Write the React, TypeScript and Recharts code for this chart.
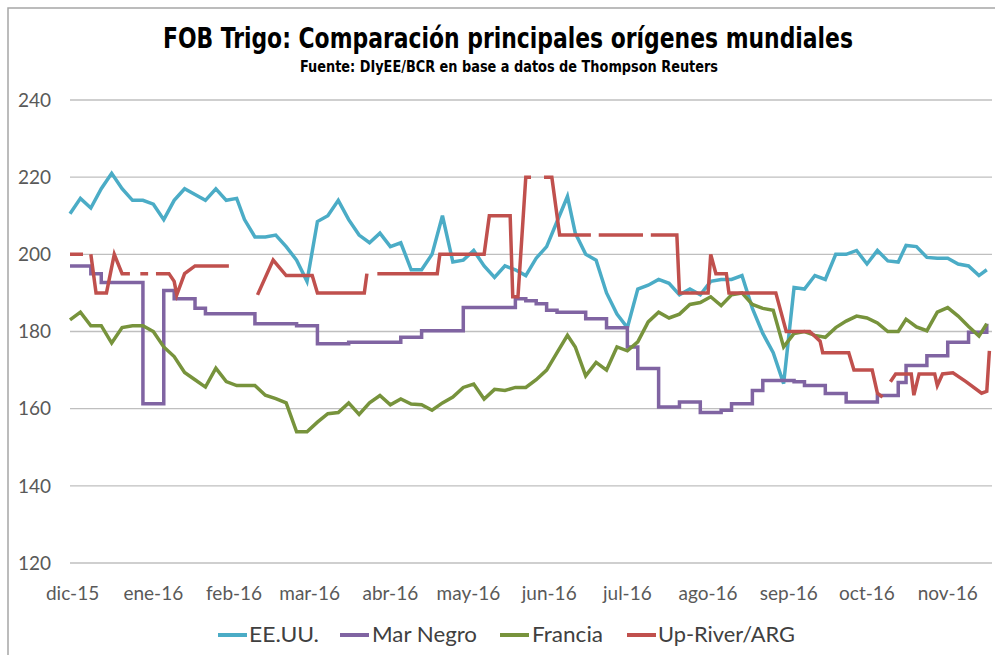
import { CartesianGrid, Line, LineChart, XAxis, YAxis } from "recharts";

const monthTicks = [1, 32, 63, 92, 123, 153, 184, 214, 245, 276, 306, 337];
const monthLabels = [
  "dic-15", "ene-16", "feb-16", "mar-16", "abr-16", "may-16",
  "jun-16", "jul-16", "ago-16", "sep-16", "oct-16", "nov-16",
];
const yTicks = [120, 140, 160, 180, 200, 220, 240];

// day 0 = 30-nov-2015
const days = [
  0, 4, 8, 12, 16, 20, 24, 28, 32, 36,
  40, 44, 48, 52, 56, 60, 64, 67, 71, 75,
  79, 83, 87, 91, 95, 99, 103, 107, 111, 115,
  119, 123, 127, 131, 135, 139, 143, 147, 151, 155,
  159, 163, 167, 171, 175, 179, 183, 187, 191, 194,
  198, 202, 206, 210, 214, 218, 222, 226, 230, 234,
  238, 242, 246, 250, 254, 258, 262, 266, 270, 274,
  278, 282, 286, 290, 294, 298, 302, 306, 310, 314,
  318, 321, 325, 329, 333, 337, 341, 345, 349, 352,
];

const eeuu = [
  210.5, 214.5, 212, 217, 221, 217, 214, 214, 213, 209,
  214, 217, 215.5, 214, 217, 214, 214.5, 209, 204.5, 204.5,
  205, 202, 198.5, 193, 208.5, 210, 214, 209, 205, 203,
  205.5, 202, 203, 196, 196, 200, 210, 198, 198.5, 201,
  197, 194, 197, 196, 194.5, 199, 202, 208.5, 215, 205.5,
  200, 198.5, 190, 184.5, 181, 191, 192, 193.5, 192.5, 189.5,
  191, 189.5, 193, 193.5, 193.5, 194.5, 186, 179.5, 174.5, 166.5,
  191.4, 191, 194.5, 193.5, 200, 200, 201, 197.5, 201, 198.3,
  198, 202.3, 202, 199.2, 199, 199, 197.5, 197, 194.5, 196,
];

const marNegro = [
  197, 197, 195, 192.7, 192.7, 192.7, 192.7, 161.3, 161.3, 190.6,
  188.5, 188.5, 186, 184.6, 184.6, 184.6, 184.6, 184.6, 182, 182,
  182, 182, 181.5, 181.5, 176.8, 176.8, 176.8, 177.2, 177.2, 177.2,
  177.2, 177.2, 178.5, 178.5, 180.2, 180.2, 180.2, 180.2, 186.2, 186.2,
  186.2, 186.2, 186.2, 188.5, 188, 187.2, 185.5, 185, 185, 185,
  183.3, 183.3, 181, 181, 176, 170.4, 170.4, 160.4, 160.4, 161.7,
  161.7, 159, 159, 159.6, 161.3, 161.3, 164.7, 167.3, 167.3, 167.3,
  167, 166, 166, 163.9, 163.9, 161.7, 161.7, 161.7, 163.4, 163.4,
  166.8, 171.2, 171.2, 173.7, 173.7, 177.2, 177.2, 179.8, 179.8, 182,
];

const francia = [
  183, 185, 181.5, 181.5, 177, 181, 181.5, 181.5, 180, 176,
  173.5, 169.4, 167.5, 165.6, 170.5, 167, 166, 166, 166, 163.5,
  162.6, 161.5, 154, 154, 156.5, 158.7, 159, 161.5, 158.5, 161.5,
  163.4, 161, 162.5, 161.2, 161, 159.6, 161.5, 163, 165.5, 166.4,
  162.5, 165, 164.7, 165.5, 165.5, 167.5, 170, 174.5, 179, 176,
  168.5, 172, 170, 176, 175, 177.3, 182.5, 185, 183.5, 184.5,
  187, 187.5, 189, 186.7, 189.5, 190, 187, 186, 185.5, 176,
  179.5, 180, 179, 178.5, 181, 182.7, 184, 183.5, 182.2, 180,
  180, 183.2, 181.2, 180.2, 185, 186.2, 184, 181.3, 178.8, 182,
];

// Up-River has gaps (null) and its own dates
const argDays = [
  0, 5, 7,
  8, 10, 14, 17, 20, 23, 25,
  27, 30, 32,
  33, 38, 40, 41, 44, 48, 61, 66,
  72, 78, 83, 93, 95, 113, 114, 116,
  118, 141, 142, 159, 161, 169, 170, 172, 175, 177, 180,
  182, 185, 188, 200, 202,
  203, 220, 222,
  223, 233, 234, 245, 246, 248, 252, 253, 271, 275, 284, 288, 289, 299, 301, 308, 310, 312, 314,
  315, 317, 323, 324, 326, 332, 333, 335, 339, 344, 350, 352, 353,
];
const argValues = [
  200, 200, null,
  200, 190, 190, 200, 195, 195, null,
  195, 195, null,
  195, 195, 193, 189.5, 195, 197, 197, null,
  189.5, 198.5, 194.5, 194.5, 190, 190, 195, null,
  195, 195, 200, 200, 210, 210, 189, 189, 220, 220, null,
  220, 220, 205, 205, null,
  205, 205, null,
  205, 205, 190, 190, 200, 195, 195, 190, 190, 180, 180, 177.5, 174.5, 174.5, 170, 170, 164, 163, null,
  167, 169, 169, 163.5, 169, 169, 166, 169, 169.3, 167, 164, 164.5, 175,
];

const series = [
  { key: "eeuu", name: "EE.UU.", color: "#4BACC6" },
  { key: "marNegro", name: "Mar Negro", color: "#8064A2" },
  { key: "francia", name: "Francia", color: "#77933C" },
  { key: "arg", name: "Up-River/ARG", color: "#C0504D" },
];

const data = days.map((day, i) => ({
  day,
  eeuu: eeuu[i],
  marNegro: marNegro[i],
  francia: francia[i],
}));

const argData = argDays.map((day, i) => ({ day, arg: argValues[i] }));

const tickStyle = { fontFamily: "Lato, sans-serif", fontSize: 19, fill: "#595959" };

// legend placement: marker start, label start, label width
const legendPos = [
  { m: 218, x: 249, w: 70 },
  { m: 340, x: 372, w: 105 },
  { m: 500, x: 532, w: 71 },
  { m: 627, x: 658, w: 137 },
];

export default function App() {
  return (
    <div style={{ position: "absolute", left: 0, top: 0, width: 995, height: 655, background: "#fff" }}>
      <LineChart width={995} height={655} data={data} margin={{ top: 100, right: 3, bottom: 0, left: 0 }}>
        <CartesianGrid vertical={false} stroke="#BFBFBF" strokeWidth={1.3} />
        <XAxis
          dataKey="day"
          type="number"
          domain={[0, 354]}
          ticks={monthTicks}
          interval={0}
          tickFormatter={(v) => monthLabels[monthTicks.indexOf(v)]}
          axisLine={false}
          tickLine={false}
          tickSize={0}
          tickMargin={24}
          height={92}
          tick={tickStyle}
        />
        <YAxis
          type="number"
          domain={[120, 240]}
          ticks={yTicks}
          interval={0}
          axisLine={false}
          tickLine={false}
          tickSize={0}
          tickMargin={19}
          width={70}
          tick={tickStyle}
        />
        <Line dataKey="eeuu" name="EE.UU." type="linear" stroke="#4BACC6" strokeWidth={3.5} dot={false} isAnimationActive={false} />
        <Line dataKey="marNegro" name="Mar Negro" type="stepAfter" stroke="#8064A2" strokeWidth={3.5} dot={false} isAnimationActive={false} />
        <Line dataKey="francia" name="Francia" type="linear" stroke="#77933C" strokeWidth={3.5} dot={false} isAnimationActive={false} />
        <Line data={argData} dataKey="arg" name="Up-River/ARG" type="linear" stroke="#C0504D" strokeWidth={3.5} dot={false} connectNulls={false} isAnimationActive={false} />
      </LineChart>
      <svg width={995} height={655} style={{ position: "absolute", left: 0, top: 0, pointerEvents: "none" }}>
        <rect x={8} y={8} width={1100} height={800} fill="none" stroke="#A6A6A6" strokeWidth={1.5} />
        <text
          x={508}
          y={48}
          textAnchor="middle"
          textLength={690}
          lengthAdjust="spacingAndGlyphs"
          style={{ fontFamily: "'Liberation Sans Narrow', 'DejaVu Sans Condensed', sans-serif", fontWeight: 700, fontSize: 29, fill: "#000" }}
        >
          FOB Trigo: Comparación principales orígenes mundiales
        </text>
        <text
          x={509}
          y={72}
          textAnchor="middle"
          textLength={418}
          lengthAdjust="spacingAndGlyphs"
          style={{ fontFamily: "'Liberation Sans Narrow', 'DejaVu Sans Condensed', sans-serif", fontWeight: 700, fontSize: 15, fill: "#000" }}
        >
          Fuente: DIyEE/BCR en base a datos de Thompson Reuters
        </text>
        {series.map((s, i) => (
          <g key={s.key}>
            <line x1={legendPos[i].m} x2={legendPos[i].m + 29} y1={635} y2={635} stroke={s.color} strokeWidth={4} />
            <text
              x={legendPos[i].x}
              y={642}
              textLength={legendPos[i].w}
              lengthAdjust="spacingAndGlyphs"
              style={{ fontFamily: "Lato, sans-serif", fontSize: 21, fill: "#404040" }}
            >
              {s.name}
            </text>
          </g>
        ))}
      </svg>
    </div>
  );
}
